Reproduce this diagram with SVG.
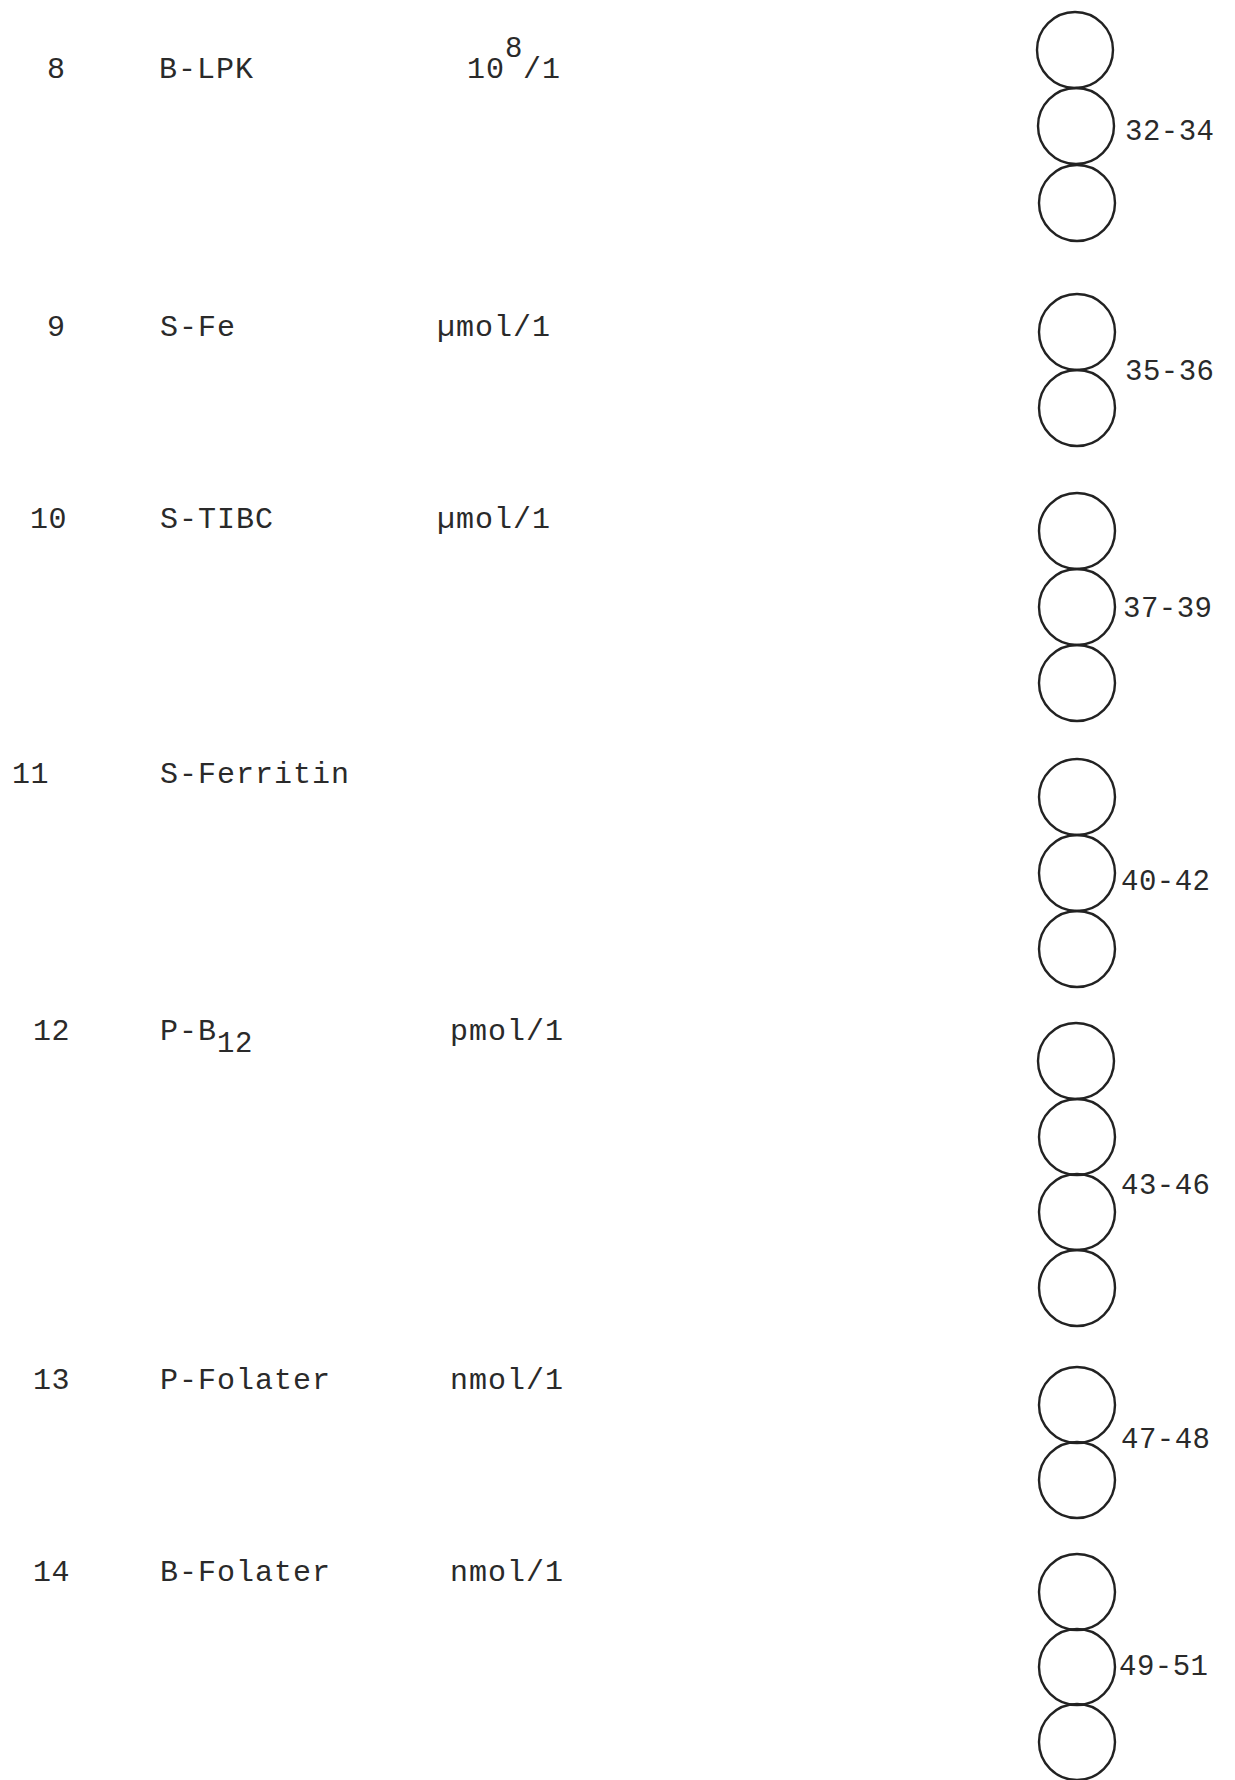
<svg xmlns="http://www.w3.org/2000/svg" width="1235" height="1780" viewBox="0 0 1235 1780">
<style>
.t{font-family:"Liberation Mono",monospace;font-size:30px;letter-spacing:1px;fill:#2a2a2a}
.r{font-family:"Liberation Mono",monospace;font-size:30px;letter-spacing:0.5px;fill:#2a2a2a}
.n{font-family:"Liberation Mono",monospace;font-size:29px;letter-spacing:0.5px;fill:#2a2a2a}
.c{fill:none;stroke:#222;stroke-width:2.4}
</style>
<rect width="1235" height="1780" fill="#fff"/>
<g id="rows">
<g id="row8"><text class="r" x="47" y="78">8</text><text class="t" x="159" y="78">B-LPK</text><text class="t" x="467" y="78">10<tspan dy="-21" class="n">8</tspan><tspan dy="21">/1</tspan></text></g>
<g id="row9"><text class="r" x="47" y="336">9</text><text class="t" x="160" y="336">S-Fe</text><text class="t" x="437" y="336">µmol/1</text></g>
<g id="row10"><text class="r" x="30" y="528">10</text><text class="t" x="160" y="528">S-TIBC</text><text class="t" x="437" y="528">µmol/1</text></g>
<g id="row11"><text class="r" x="12" y="783">11</text><text class="t" x="160" y="783">S-Ferritin</text></g>
<g id="row12"><text class="r" x="33" y="1040">12</text><text class="t" x="160" y="1040">P-B<tspan dy="12" class="n">12</tspan></text><text class="t" x="450" y="1040">pmol/1</text></g>
<g id="row13"><text class="r" x="33" y="1389">13</text><text class="t" x="160" y="1389">P-Folater</text><text class="t" x="450" y="1389">nmol/1</text></g>
<g id="row14"><text class="r" x="33" y="1581">14</text><text class="t" x="160" y="1581">B-Folater</text><text class="t" x="450" y="1581">nmol/1</text></g>
</g>
<g id="g32-34"><circle class="c" cx="1075" cy="50" r="38"/><circle class="c" cx="1076" cy="126" r="38"/><circle class="c" cx="1077" cy="203" r="38"/><text class="n" x="1125" y="140">32-34</text></g>
<g id="g35-36"><circle class="c" cx="1077" cy="332" r="38"/><circle class="c" cx="1077" cy="408" r="38"/><text class="n" x="1125" y="380">35-36</text></g>
<g id="g37-39"><circle class="c" cx="1077" cy="531" r="38"/><circle class="c" cx="1077" cy="607" r="38"/><circle class="c" cx="1077" cy="683" r="38"/><text class="n" x="1123" y="617">37-39</text></g>
<g id="g40-42"><circle class="c" cx="1077" cy="797" r="38"/><circle class="c" cx="1077" cy="873" r="38"/><circle class="c" cx="1077" cy="949" r="38"/><text class="n" x="1121" y="890">40-42</text></g>
<g id="g43-46"><circle class="c" cx="1076" cy="1061" r="38"/><circle class="c" cx="1077" cy="1137" r="38"/><circle class="c" cx="1077" cy="1212" r="38"/><circle class="c" cx="1077" cy="1288" r="38"/><text class="n" x="1121" y="1194">43-46</text></g>
<g id="g47-48"><circle class="c" cx="1077" cy="1405" r="38"/><circle class="c" cx="1077" cy="1480" r="38"/><text class="n" x="1121" y="1448">47-48</text></g>
<g id="g49-51"><circle class="c" cx="1077" cy="1592" r="38"/><circle class="c" cx="1077" cy="1667" r="38"/><circle class="c" cx="1077" cy="1742" r="38"/><text class="n" x="1119" y="1675">49-51</text></g>
</svg>
